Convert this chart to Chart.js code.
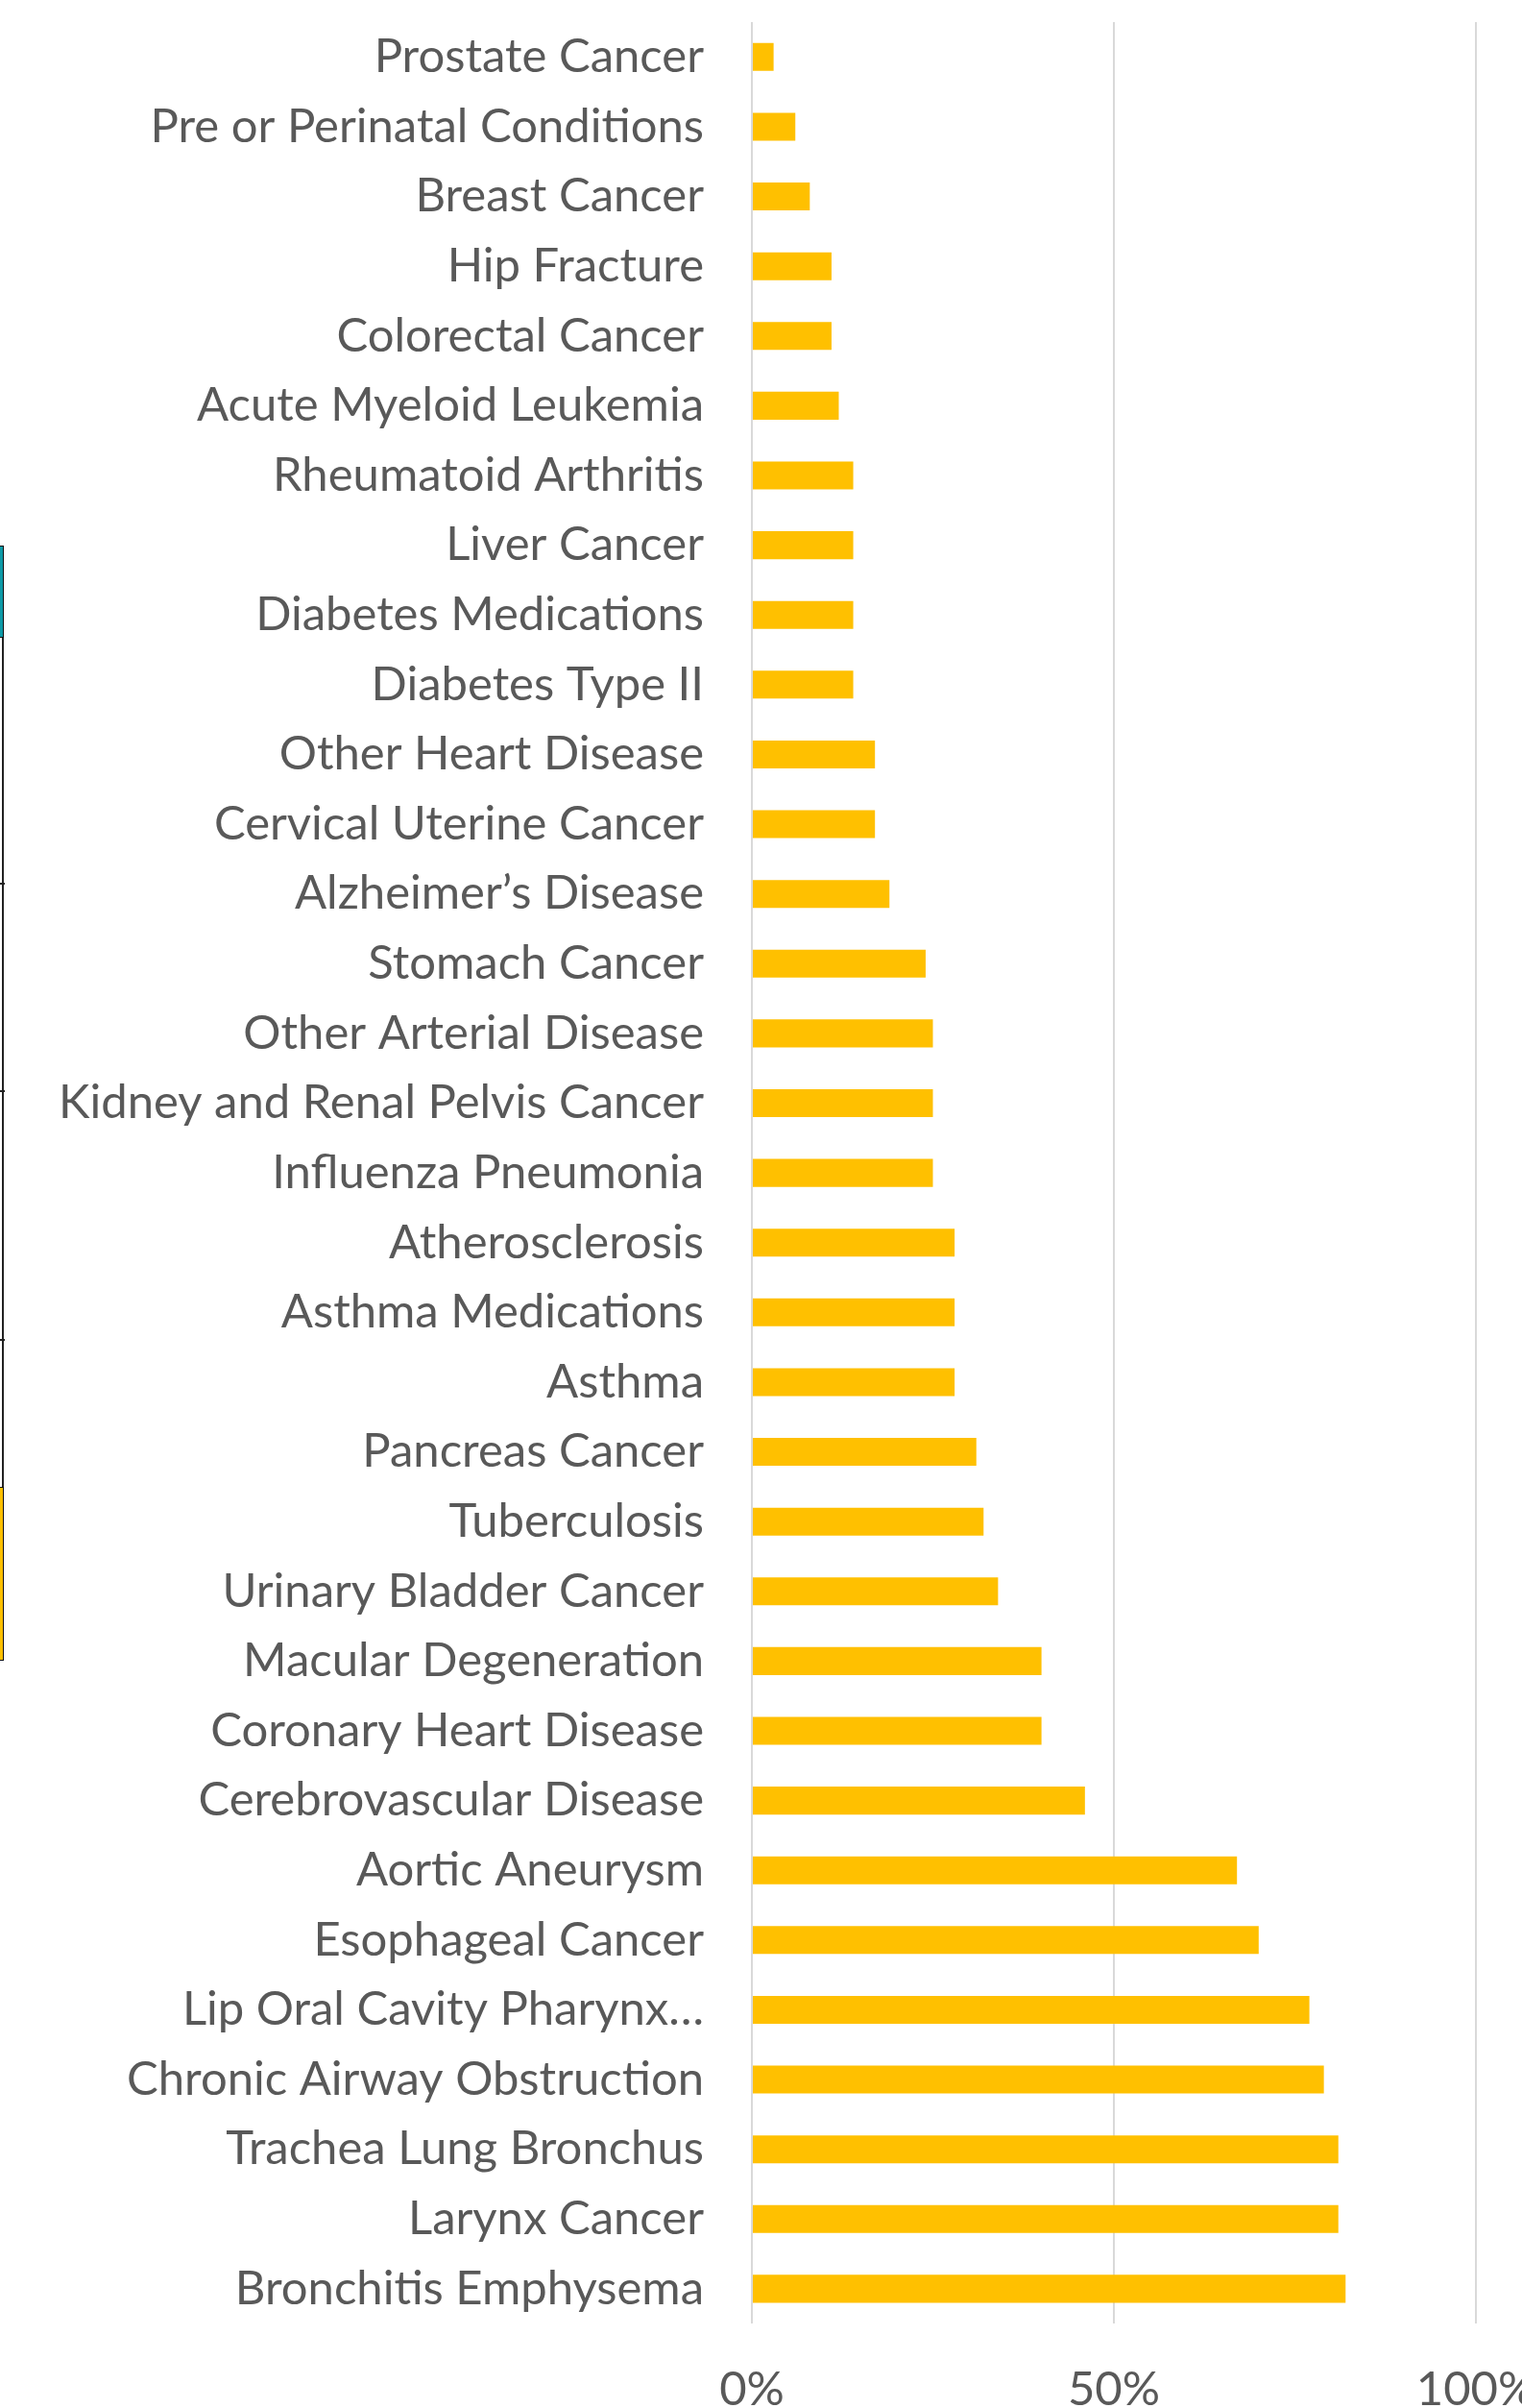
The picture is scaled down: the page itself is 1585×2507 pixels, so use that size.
<!DOCTYPE html>
<html>
<head>
<meta charset="utf-8">
<script src="https://cdn.jsdelivr.net/npm/chart.js@4.4.1/dist/chart.umd.min.js"></script>
<style>
    html, body { margin: 0; padding: 0; background: #fff; overflow: hidden; }
    #wrap { position: relative; width: 1585px; height: 2507px; overflow: hidden; }
    #chartRiesgo { position: absolute; left: 0; top: 0; }
    /* restos del diagrama vecino, pegados al borde izquierdo */
    .linea { position: absolute; left: 2px; top: 568px; width: 2px; height: 1161px; background: #222; }
    .caja { position: absolute; left: -3px; width: 5px; border: 1.5px solid #111; }
    .marca { position: absolute; left: 0; width: 5px; height: 2px; background: #222; }
</style>
</head>
<body>
<div id="wrap">
    <canvas id="chartRiesgo"></canvas>
    <div class="linea"></div>
    <div class="caja" style="top:568px;height:94px;background:#0e9aa7;"></div>
    <div class="caja" style="top:1548px;height:179px;background:#ffc000;"></div>
    <div class="marca" style="top:919px;"></div>
    <div class="marca" style="top:1135px;"></div>
    <div class="marca" style="top:1394px;"></div>
</div>
<script>
// Categorías (de arriba hacia abajo, tal como aparecen en el gráfico)
const categorias = [
    "Prostate Cancer",
    "Pre or Perinatal Conditions",
    "Breast Cancer",
    "Hip Fracture",
    "Colorectal Cancer",
    "Acute Myeloid Leukemia",
    "Rheumatoid Arthritis",
    "Liver Cancer",
    "Diabetes Medications",
    "Diabetes Type II",
    "Other Heart Disease",
    "Cervical Uterine Cancer",
    "Alzheimer’s Disease",
    "Stomach Cancer",
    "Other Arterial Disease",
    "Kidney and Renal Pelvis Cancer",
    "Influenza Pneumonia",
    "Atherosclerosis",
    "Asthma Medications",
    "Asthma",
    "Pancreas Cancer",
    "Tuberculosis",
    "Urinary Bladder Cancer",
    "Macular Degeneration",
    "Coronary Heart Disease",
    "Cerebrovascular Disease",
    "Aortic Aneurysm",
    "Esophageal Cancer",
    "Lip Oral Cavity Pharynx…",
    "Chronic Airway Obstruction",
    "Trachea Lung Bronchus",
    "Larynx Cancer",
    "Bronchitis Emphysema"
];

// Porcentaje atribuible
const porcentajes = [
    3, 6, 8, 11, 11, 12, 14, 14, 14, 14, 17,
    17, 19, 24, 25, 25, 25, 28, 28, 28, 31, 32,
    34, 40, 40, 46, 67, 70, 77, 79, 81, 81, 82
];

// Marcas del eje X
const ticksEjeX = [0, 50, 100];
const etiquetasEjeX = ["0%", "50%", "100%"];

const AMARILLO = "#FFC000";
const GRIS_TEXTO = "#595959";
const GRIS_GRILLA = "#D9D9D9";
const FUENTE = "Lato, 'Open Sans', sans-serif";

function initGrafico() {
    const canvas = document.getElementById("chartRiesgo");
    // el lienzo es algo más ancho y alto que la ventana: "100%" queda cortado como en el original
    canvas.width = 1660;
    canvas.height = 2558;
    canvas.style.width = "1660px";
    canvas.style.height = "2558px";

    new Chart(canvas, {
        type: "bar",
        data: {
            labels: categorias,
            datasets: [{
                data: porcentajes,
                backgroundColor: AMARILLO,
                borderWidth: 0,
                categoryPercentage: 0.4,
                barPercentage: 1
            }]
        },
        options: {
            indexAxis: "y",
            responsive: false,
            animation: false,
            maintainAspectRatio: false,
            layout: { padding: { top: 23, right: 123, bottom: 0, left: 0 } },
            plugins: {
                legend: { display: false },
                tooltip: { enabled: false }
            },
            scales: {
                x: {
                    min: 0,
                    max: 100,
                    afterBuildTicks: (scale) => {
                        scale.ticks = ticksEjeX.map(v => ({ value: v }));
                    },
                    ticks: {
                        color: GRIS_TEXTO,
                        font: { family: FUENTE, size: 49, lineHeight: 1.2 },
                        padding: 40,
                        maxRotation: 0,
                        autoSkip: false,
                        callback: (v, i) => etiquetasEjeX[i]
                    },
                    grid: { color: GRIS_GRILLA, lineWidth: 2, drawTicks: false },
                    border: { display: false }
                },
                y: {
                    afterFit: (scale) => { scale.width = 783; },
                    ticks: {
                        color: GRIS_TEXTO,
                        font: { family: FUENTE, size: 49, lineHeight: 0.94 },
                        padding: 0,
                        autoSkip: false
                    },
                    grid: {
                        display: true,
                        drawOnChartArea: false,
                        drawTicks: true,
                        tickLength: 50,
                        tickColor: "rgba(0,0,0,0)"
                    },
                    border: { display: false }
                }
            }
        }
    });
}

document.addEventListener("DOMContentLoaded", initGrafico);
</script>
</body>
</html>
